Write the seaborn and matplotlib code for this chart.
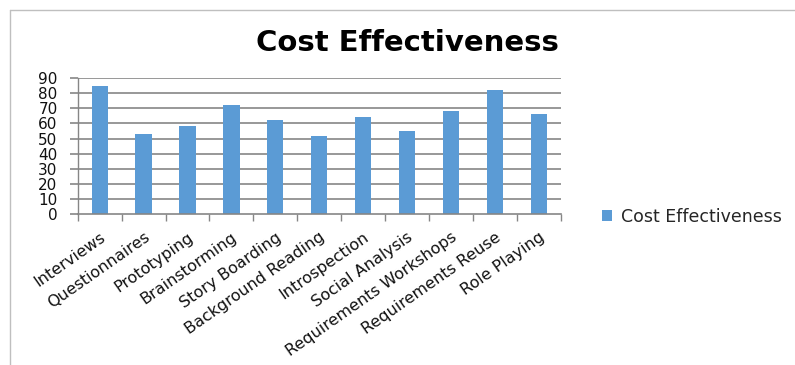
import matplotlib
matplotlib.use("Agg")
import matplotlib.pyplot as plt
import seaborn as sns
import pandas as pd
from matplotlib.lines import Line2D

categories = ["Interviews", "Questionnaires", "Prototyping", "Brainstorming",
              "Story Boarding", "Background Reading", "Introspection",
              "Social Analysis", "Requirements Workshops", "Requirements Reuse",
              "Role Playing"]
values = [85, 53, 58, 72, 62, 52, 64, 55, 68, 82, 66]
series_name = "Cost Effectiveness"
yticks = [0, 10, 20, 30, 40, 50, 60, 70, 80, 90]

sns.set_theme(style="white")
plt.rcParams['font.family'] = ['DejaVu Sans']

df = pd.DataFrame({"Method": categories, "Score": values})

W, H = 795, 365
fig = plt.figure(figsize=(W / 100, H / 100), dpi=100)
ax = fig.add_axes([77.7 / W, 1 - 214.3 / H, (560.7 - 77.7) / W, (214.3 - 78) / H])

sns.barplot(data=df, x="Method", y="Score", color="#5B9BD5", width=0.37,
            saturation=1, ax=ax, label=series_name, linewidth=0)

ax.set_ylim(0, 90)
ax.set_xlim(-0.5, len(categories) - 0.5)
ax.set_yticks(yticks)
ax.set_yticklabels([str(v) for v in yticks], fontsize=11, color="#111111")
ax.set_xlabel("")
ax.set_ylabel("")

for v in yticks[1:]:
    ax.axhline(v, color="#868686", lw=1.2, zorder=0)

for s in ["top", "right"]:
    ax.spines[s].set_visible(False)
ax.spines["left"].set_color("#868686")
ax.spines["bottom"].set_color("#868686")
ax.spines["left"].set_linewidth(1.0)
ax.spines["bottom"].set_linewidth(1.2)

ax.tick_params(axis="y", length=5.5, width=1.2, color="#868686", pad=9, left=True)
ax.set_xticks(range(len(categories)))
ax.set_xticklabels(categories, rotation=35, ha="right", rotation_mode="anchor",
                   fontsize=11.5, color="#111111")
ax.tick_params(axis="x", which="major", length=0, pad=11)
ax.set_xticks([i - 0.5 for i in range(len(categories) + 1)], minor=True)
ax.tick_params(axis="x", which="minor", length=5, width=1.0, color="#868686", bottom=True)

fig.text(407 / W, 1 - 43 / H, "Cost Effectiveness", ha="center", va="center",
         fontsize=21, fontweight="bold", color="#000000")

leg = ax.legend(loc="center left", bbox_to_anchor=(586 / W, 1 - 217 / H),
                bbox_transform=fig.transFigure, frameon=False, fontsize=12.5,
                handlelength=0.6, handleheight=0.6, handletextpad=0.5)

fig.add_artist(Line2D([10 / W, 1], [1 - 10 / H, 1 - 10 / H], transform=fig.transFigure,
                      color="#BFBFBF", lw=1))
fig.add_artist(Line2D([10 / W, 10 / W], [0, 1 - 10 / H], transform=fig.transFigure,
                      color="#BFBFBF", lw=1))

fig.savefig("out.png", dpi=100, facecolor="white")
